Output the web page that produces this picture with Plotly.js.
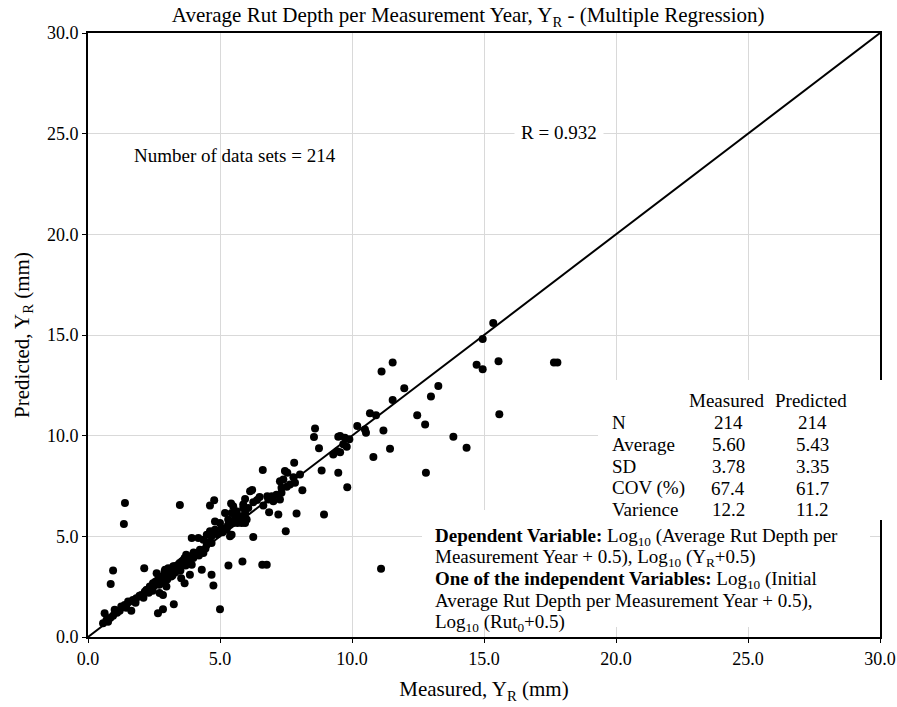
<!DOCTYPE html>
<html>
<head>
<meta charset="utf-8">
<script src="https://cdn.plot.ly/plotly-3.0.1.min.js"></script>
<style>html,body{margin:0;padding:0;background:#fff;}#chart{width:897px;height:707px;}</style>
</head>
<body>
<div id="chart"></div>
<script>
// Measured vs predicted average rut depth per measurement year (mm)
const measured = [
 0.57,0.63,0.76,0.70,0.85,0.95,1.01,1.10,1.20,1.26,1.39,1.45,1.52,1.64,1.70,1.80,1.83,1.95,2.02,2.10,2.15,2.21,2.30,2.34,2.40,2.46,2.50,
 0.95,0.86,1.40,1.36,2.13,2.65,2.84,3.25,
 2.55,2.60,2.65,2.70,2.71,2.78,2.80,2.84,2.90,2.92,2.95,2.97,3.04,3.05,3.09,3.15,3.20,3.23,3.28,3.30,3.35,3.42,3.47,3.50,3.53,3.55,3.61,3.66,3.66,3.72,3.74,3.80,3.86,3.86,3.93,3.93,3.99,4.05,4.12,4.18,4.24,4.31,4.37,4.37,4.45,
 3.48,
 4.50,4.50,4.62,4.62,4.68,4.68,4.68,4.75,4.78,4.81,4.81,5.00,5.00,5.06,5.19,5.25,5.31,5.32,5.38,5.42,5.44,5.44,5.50,5.50,5.57,5.63,5.66,5.76,5.82,5.85,5.88,5.88,5.95,5.95,5.95,6.01,6.07,6.14,6.26,6.26,6.22,6.60,6.77,6.64,6.62,
 6.79,6.96,7.14,6.83,7.02,7.27,6.86,7.21,7.90,7.49,7.27,7.40,7.65,7.84,7.33,7.53,8.12,7.46,7.55,8.03,7.78,7.81,7.33,
 8.60,8.56,8.75,8.85,8.94,9.48,9.55,9.73,9.90,9.67,9.80,9.55,9.29,9.44,9.48,9.82,10.20,10.49,10.53,10.68,10.91,10.81,11.10,
 11.19,11.44,11.54,11.12,11.98,11.54,12.47,12.77,12.80,12.99,13.27,13.84,14.34,14.72,14.95,14.95,15.35,15.55,15.58,17.65,17.78,
 2.25,2.45,2.60,2.75,2.85,3.00,3.10,3.20,3.38,3.45,3.60,3.70,4.00,4.20,4.55,4.90,5.10,5.30,6.40,6.50
];
const predicted = [
 0.68,1.18,0.76,0.85,0.95,1.05,1.35,1.20,1.30,1.51,1.59,1.45,1.76,1.31,1.84,1.70,1.93,2.05,2.09,1.95,2.25,2.34,2.20,2.51,2.40,2.67,2.55,
 3.30,2.63,6.66,5.61,3.42,1.18,1.38,1.63,
 2.75,3.17,2.84,2.60,2.18,3.00,2.80,2.09,3.25,3.34,2.95,2.51,3.42,3.10,3.34,3.00,3.25,3.51,3.51,3.20,3.40,3.59,3.67,3.30,2.92,3.75,3.59,2.67,3.92,4.09,3.84,3.70,4.00,3.09,3.59,4.92,3.92,4.10,4.17,4.92,4.33,3.34,4.17,4.83,4.40,
 6.56,
 5.08,4.58,5.25,6.53,4.67,5.00,3.09,2.56,6.79,5.74,5.33,5.66,1.38,5.41,6.16,5.33,5.83,3.55,5.00,6.63,6.16,5.08,5.66,6.49,5.91,6.24,5.66,6.00,5.66,3.75,6.58,6.41,6.16,5.66,6.86,5.83,6.41,7.24,6.69,4.97,7.30,3.59,3.59,6.53,8.29,
 6.99,6.99,7.07,6.83,6.74,6.83,6.19,6.08,6.13,5.25,7.74,7.82,7.57,7.66,7.41,7.46,7.29,8.24,8.16,8.07,7.94,8.65,7.16,
 10.35,9.93,9.37,8.27,6.08,9.95,9.98,9.90,9.82,9.57,9.45,9.18,9.07,9.23,8.16,7.44,10.48,10.31,10.15,11.11,11.01,8.94,3.39,
 10.26,9.35,13.64,13.19,12.36,11.77,11.01,10.56,8.16,11.94,12.47,9.95,9.40,13.52,13.30,14.80,15.60,13.69,11.06,13.64,13.64,
 2.35,2.30,2.65,2.70,2.95,2.85,3.20,3.05,3.55,3.30,3.80,3.55,4.20,4.05,4.70,5.10,5.20,5.55,6.80,6.95
];
const equalityLine = [0, 30];
const axisTicks = [0, 5, 10, 15, 20, 25, 30];
const statRows = ['N', 'Average', 'SD', 'COV (%)', 'Varience'];
const statMeasured = ['214', '5.60', '3.78', '67.4', '12.2'];
const statPredicted = ['214', '5.43', '3.35', '61.7', '11.2'];
const statHeaders = ['Measured', 'Predicted'];
const noteLines = [
 '<b>Dependent Variable:</b> Log<sub>10</sub> (Average Rut Depth per',
 'Measurement Year + 0.5), Log<sub>10</sub> (Y<sub>R</sub>+0.5)',
 '<b>One of the independent Variables:</b> Log<sub>10</sub> (Initial',
 'Average Rut Depth per Measurement Year + 0.5),',
 'Log<sub>10</sub> (Rut<sub>0</sub>+0.5)'
];

const FONT = 'Liberation Serif, Times New Roman, serif';
const ANN_SIZE = 19;

const traces = [
 {x: measured, y: predicted, type: 'scatter', mode: 'markers',
  marker: {color: '#000', size: 8}, hoverinfo: 'x+y', showlegend: false},
 {x: equalityLine, y: equalityLine, type: 'scatter', mode: 'lines',
  line: {color: '#000', width: 2}, hoverinfo: 'skip', showlegend: false}
];

const ann = [];
function txt(t, x, y, xanchor, size) {
 ann.push({text: t, xref: 'x', yref: 'y', x: x, y: y, xanchor: xanchor, yanchor: 'middle',
  showarrow: false, font: {family: FONT, size: size || ANN_SIZE, color: '#000'}});
}
txt('Number of data sets = 214', 5.57, 23.94, 'center');
ann.push({text: 'R = 0.932', xref: 'x', yref: 'y', x: 17.84, y: 25.04, xanchor: 'center', yanchor: 'middle',
 showarrow: false, bgcolor: '#fff', borderpad: 6, font: {family: FONT, size: ANN_SIZE, color: '#000'}});

const rowY = [10.63, 9.54, 8.49, 7.40, 6.31];
txt(statHeaders[0], 24.2, 11.77, 'center');
txt(statHeaders[1], 27.39, 11.77, 'center');
statRows.forEach((r, i) => {
 txt(r, 19.77, rowY[i], 'left');
 txt(statMeasured[i], 24.25, rowY[i], 'center');
 txt(statPredicted[i], 27.45, rowY[i], 'center');
});
const noteY = [4.97, 3.92, 2.83, 1.79, 0.70];
noteLines.forEach((l, i) => txt(l, 13.07, noteY[i], 'left'));

const shapes = [
 {type: 'rect', xref: 'paper', yref: 'paper', x0: 0.644, x1: 1.003, y0: 0.1937, y1: 0.4255,
  fillcolor: '#fff', line: {width: 0}, layer: 'above'},
 {type: 'rect', xref: 'paper', yref: 'paper', x0: 0.4217, x1: 0.9874, y0: 0.0166, y1: 0.2103,
  fillcolor: '#fff', line: {width: 0}, layer: 'above'}
];

const axisCommon = {
 range: [0, 30], tickvals: axisTicks, tickformat: '.1f',
 showgrid: true, gridcolor: '#d9d9d9', gridwidth: 1,
 showline: true, linecolor: '#000', linewidth: 2, mirror: true,
 ticks: 'outside', ticklen: 4, tickcolor: '#000', tickwidth: 1,
 zeroline: false, fixedrange: true,
 tickfont: {family: FONT, size: 18, color: '#000'}
};

const layout = {
 width: 897, height: 707,
 margin: {l: 88, r: 17, t: 33, b: 70},
 paper_bgcolor: '#fff', plot_bgcolor: '#fff',
 font: {family: FONT, color: '#000'},
 title: {text: 'Average Rut Depth per Measurement Year, Y<sub>R</sub> - (Multiple Regression)',
  font: {family: FONT, size: 21, color: '#000'}, x: 0.522, xanchor: 'center', y: 0.979, yanchor: 'middle'},
 xaxis: Object.assign({}, axisCommon, {
  title: {text: 'Measured, Y<sub>R</sub> (mm)', font: {family: FONT, size: 21, color: '#000'}, standoff: 14}
 }),
 yaxis: Object.assign({}, axisCommon, {
  title: {text: 'Predicted, Y<sub>R</sub> (mm)', font: {family: FONT, size: 21, color: '#000'}, standoff: 12}
 }),
 annotations: ann,
 shapes: shapes,
 showlegend: false
};

Plotly.newPlot('chart', traces, layout, {displayModeBar: false, staticPlot: true});
</script>
</body>
</html>
